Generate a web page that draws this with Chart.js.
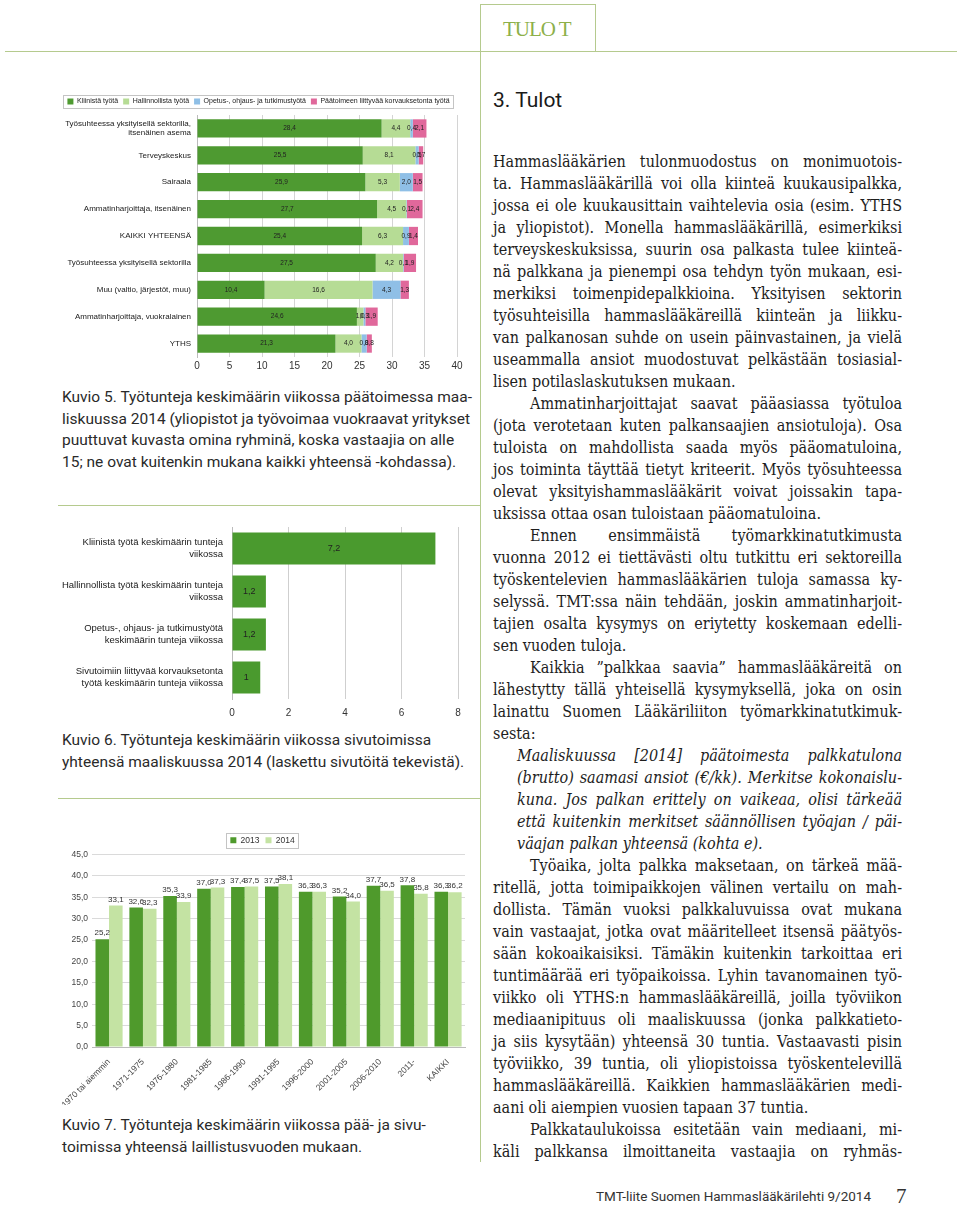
<!DOCTYPE html>
<html lang="fi">
<head>
<meta charset="utf-8">
<script src="https://cdn.jsdelivr.net/npm/chart.js@4.4.1/dist/chart.umd.min.js"></script>
<style>
  body { margin: 0; width: 960px; height: 1206px; position: relative; background: #fff; overflow: hidden; }
  .hline { position: absolute; height: 0; border-top: 1.5px solid #b5ca8e; }
  .vline { position: absolute; width: 0; border-left: 1.5px solid #b5ca8e; }
  .cap { position: absolute; left: 62px; font-family: Roboto, "Liberation Sans", sans-serif; font-size: 15.5px; line-height: 21.5px; color: #2a2a2a; white-space: nowrap; }
  .txt { position: absolute; left: 493px; top: 151px; width: 409px; font-family: "DejaVu Serif Condensed", "DejaVu Serif", serif; font-size: 16px; line-height: 22px; color: #1e1e1e; }
  .txt div { text-align: justify; text-align-last: justify; height: 22px; overflow: visible; }
  .txt div.e { text-align-last: left; }
  .txt .i { padding-left: 37px; }
  .txt .q { margin-left: 24px; font-style: italic; }
  .chart { position: absolute; }
</style>
</head>
<body>

<!-- page frame -->
<div class="hline" style="left:5px; top:51px; width:952px;"></div>
<div class="vline" style="left:480px; top:4px; height:1158px;"></div>
<div class="hline" style="left:480px; top:4px; width:115px;"></div>
<div class="vline" style="left:595px; top:4px; height:47px;"></div>
<div style="position:absolute; left:503px; top:17px; font-family:'Liberation Serif',serif; font-size:21px; color:#8db04a; letter-spacing:-1px;">TULO T</div>
<div class="hline" style="left:58px; top:505px; width:422px;"></div>
<div class="hline" style="left:58px; top:798px; width:422px;"></div>

<!-- Kuvio 5 -->
<canvas id="c1" class="chart" width="410" height="290" style="left:60px; top:90px;"></canvas>
<div class="cap" style="top:387px;">Kuvio 5. Työtunteja keskimäärin viikossa päätoimessa maa-<br>liskuussa 2014 (yliopistot ja työvoimaa vuokraavat yritykset<br>puuttuvat kuvasta omina ryhminä, koska vastaajia on alle<br>15; ne ovat kuitenkin mukana kaikki yhteensä -kohdassa).</div>

<!-- Kuvio 6 -->
<canvas id="c2" class="chart" width="410" height="205" style="left:60px; top:518px;"></canvas>
<div class="cap" style="top:730px;">Kuvio 6. Työtunteja keskimäärin viikossa sivutoimissa<br>yhteensä maaliskuussa 2014 (laskettu sivutöitä tekevistä).</div>

<!-- Kuvio 7 -->
<canvas id="c3" class="chart" width="410" height="275" style="left:60px; top:830px;"></canvas>
<div class="cap" style="top:1115px;">Kuvio 7. Työtunteja keskimäärin viikossa pää- ja sivu-<br>toimissa yhteensä laillistusvuoden mukaan.</div>

<!-- right column -->
<div style="position:absolute; left:493px; top:88px; font-family:Roboto,'Liberation Sans',sans-serif; font-size:21px; color:#1a1a1a;">3. Tulot</div>
<div class="txt" id="txt">
  <div>Hammaslääkärien tulonmuodostus on monimuotois-</div>
  <div>ta. Hammaslääkärillä voi olla kiinteä kuukausipalkka,</div>
  <div>jossa ei ole kuukausittain vaihtelevia osia (esim. YTHS</div>
  <div>ja yliopistot). Monella hammaslääkärillä, esimerkiksi</div>
  <div>terveyskeskuksissa, suurin osa palkasta tulee kiinteä-</div>
  <div>nä palkkana ja pienempi osa tehdyn työn mukaan, esi-</div>
  <div>merkiksi toimenpidepalkkioina. Yksityisen sektorin</div>
  <div>työsuhteisilla hammaslääkäreillä kiinteän ja liikku-</div>
  <div>van palkanosan suhde on usein päinvastainen, ja vielä</div>
  <div>useammalla ansiot muodostuvat pelkästään tosiasial-</div>
  <div class="e">lisen potilaslaskutuksen mukaan.</div>
  <div class="i">Ammatinharjoittajat saavat pääasiassa työtuloa</div>
  <div>(jota verotetaan kuten palkansaajien ansiotuloja). Osa</div>
  <div>tuloista on mahdollista saada myös pääomatuloina,</div>
  <div>jos toiminta täyttää tietyt kriteerit. Myös työsuhteessa</div>
  <div>olevat yksityishammaslääkärit voivat joissakin tapa-</div>
  <div class="e">uksissa ottaa osan tuloistaan pääomatuloina.</div>
  <div class="i">Ennen ensimmäistä työmarkkinatutkimusta</div>
  <div>vuonna 2012 ei tiettävästi oltu tutkittu eri sektoreilla</div>
  <div>työskentelevien hammaslääkärien tuloja samassa ky-</div>
  <div>selyssä. TMT:ssa näin tehdään, joskin ammatinharjoit-</div>
  <div>tajien osalta kysymys on eriytetty koskemaan edelli-</div>
  <div class="e">sen vuoden tuloja.</div>
  <div class="i">Kaikkia ”palkkaa saavia” hammaslääkäreitä on</div>
  <div>lähestytty tällä yhteisellä kysymyksellä, joka on osin</div>
  <div>lainattu Suomen Lääkäriliiton työmarkkinatutkimuk-</div>
  <div class="e">sesta:</div>
  <div class="q">Maaliskuussa [2014] päätoimesta palkkatulona</div>
  <div class="q">(brutto) saamasi ansiot (€/kk). Merkitse kokonaislu-</div>
  <div class="q">kuna. Jos palkan erittely on vaikeaa, olisi tärkeää</div>
  <div class="q">että kuitenkin merkitset säännöllisen työajan / päi-</div>
  <div class="q e">väajan palkan yhteensä (kohta e).</div>
  <div class="i">Työaika, jolta palkka maksetaan, on tärkeä mää-</div>
  <div>ritellä, jotta toimipaikkojen välinen vertailu on mah-</div>
  <div>dollista. Tämän vuoksi palkkaluvuissa ovat mukana</div>
  <div>vain vastaajat, jotka ovat määritelleet itsensä päätyös-</div>
  <div>sään kokoaikaisiksi. Tämäkin kuitenkin tarkoittaa eri</div>
  <div>tuntimäärää eri työpaikoissa. Lyhin tavanomainen työ-</div>
  <div>viikko oli YTHS:n hammaslääkäreillä, joilla työviikon</div>
  <div>mediaanipituus oli maaliskuussa (jonka palkkatieto-</div>
  <div>ja siis kysytään) yhteensä 30 tuntia. Vastaavasti pisin</div>
  <div>työviikko, 39 tuntia, oli yliopistoissa työskentelevillä</div>
  <div>hammaslääkäreillä. Kaikkien hammaslääkärien medi-</div>
  <div class="e">aani oli aiempien vuosien tapaan 37 tuntia.</div>
  <div class="i">Palkkataulukoissa esitetään vain mediaani, mi-</div>
  <div>käli palkkansa ilmoittaneita vastaajia on ryhmäs-</div>
</div>

<div style="position:absolute; left:596px; top:1188px; font-family:Roboto,'Liberation Sans',sans-serif; font-size:13.5px; color:#333;">TMT-liite Suomen Hammaslääkärilehti 9/2014</div>
<div style="position:absolute; left:896px; top:1184px; font-family:'Liberation Serif',serif; font-size:21px; color:#333;">7</div>

<script>
// shrink the body text until every printed line fits on one line
(function fitText() {
  const box = document.getElementById("txt");
  const lines = Array.from(box.children);
  let size = 16;
  const fits = () => lines.every(d => {
    d.style.height = "auto";
    const ok = d.offsetHeight <= 23;
    d.style.height = "";
    return ok;
  });
  while (size > 11 && !fits()) {
    size -= 0.25;
    box.style.fontSize = size + "px";
  }
})();

// Kuvio 5: hours per week in main job, by sector
const sectors = [
  ["Työsuhteessa yksityisellä sektorilla,", "itsenäinen asema"],
  "Terveyskeskus",
  "Sairaala",
  "Ammatinharjoittaja, itsenäinen",
  "KAIKKI YHTEENSÄ",
  "Työsuhteessa yksityisellä sektorilla",
  "Muu (valtio, järjestöt, muu)",
  "Ammatinharjoittaja, vuokralainen",
  "YTHS"
];
const clinical = [28.4, 25.5, 25.9, 27.7, 25.4, 27.5, 10.4, 24.6, 21.3];
const admin    = [4.4, 8.1, 5.3, 4.5, 6.3, 4.2, 16.6, 1.0, 4.0];
const teaching = [0.4, 0.5, 2.0, 0.1, 0.9, 0.1, 4.3, 0.3, 0.8];
const unpaid   = [2.1, 0.7, 1.5, 2.4, 1.4, 1.9, 1.3, 1.9, 0.8];

// Kuvio 6: side jobs
const sideLabels = [
  ["Kliinistä työtä keskimäärin tunteja", "viikossa"],
  ["Hallinnollista työtä keskimäärin tunteja", "viikossa"],
  ["Opetus-, ohjaus- ja tutkimustyötä", "keskimäärin tunteja viikossa"],
  ["Sivutoimiin liittyvää korvauksetonta", "työtä keskimäärin tunteja viikossa"]
];
const sideHours = [7.2, 1.2, 1.2, 1];

// Kuvio 7: by licensing year
const years = ["1970 tai aiemmin", "1971-1975", "1976-1980", "1981-1985", "1986-1990",
  "1991-1995", "1996-2000", "2001-2005", "2006-2010", "2011-", "KAIKKI"];
const hours2013 = [25.2, 32.6, 35.3, 37.0, 37.4, 37.5, 36.3, 35.2, 37.7, 37.8, 36.3];
const hours2014 = [33.1, 32.3, 33.9, 37.3, 37.5, 38.1, 36.3, 34.0, 36.5, 35.8, 36.2];

const comma1 = v => v.toFixed(1).replace(".", ",");

// draws the value of every bar, either in the middle of it or above it
const valueLabels = {
  id: "valueLabels",
  afterDatasetsDraw(chart, args, opts) {
    const ctx = chart.ctx;
    ctx.save();
    ctx.font = opts.font;
    ctx.fillStyle = opts.color;
    ctx.textAlign = "center";
    chart.data.datasets.forEach((ds, i) => {
      chart.getDatasetMeta(i).data.forEach((bar, j) => {
        const txt = opts.format(ds.data[j]);
        if (opts.position === "top") {
          ctx.textBaseline = "bottom";
          ctx.fillText(txt, bar.x, bar.y - 2);
        } else {
          ctx.textBaseline = "middle";
          ctx.fillText(txt, (bar.x + bar.base) / 2, bar.y);
        }
      });
    });
    ctx.restore();
  }
};

// thin frame round the legend items
const legendBox = {
  id: "legendBox",
  afterDraw(chart) {
    const lg = chart.legend;
    if (!lg || !lg.legendHitBoxes || !lg.legendHitBoxes.length) return;
    const hb = lg.legendHitBoxes;
    const l = Math.min(...hb.map(h => h.left)) - 4;
    const r = Math.max(...hb.map(h => h.left + h.width)) + 4;
    const t = Math.min(...hb.map(h => h.top)) - 3;
    const b = Math.max(...hb.map(h => h.top + h.height)) + 3;
    const ctx = chart.ctx;
    ctx.save();
    ctx.strokeStyle = "#c4c4c4";
    ctx.lineWidth = 1;
    ctx.strokeRect(Math.round(l) + 0.5, Math.round(t) + 0.5, Math.round(r - l), Math.round(b - t));
    ctx.restore();
  }
};

const font = "'Liberation Sans', Arial, sans-serif";
Chart.defaults.font.family = font;

new Chart(document.getElementById("c1"), {
  type: "bar",
  data: {
    labels: sectors,
    datasets: [
      { label: "Kliinistä työtä", data: clinical, backgroundColor: "#4e9a31" },
      { label: "Hallinnollista työtä", data: admin, backgroundColor: "#b6dc95" },
      { label: "Opetus-, ohjaus- ja tutkimustyötä", data: teaching, backgroundColor: "#8fbfe6" },
      { label: "Päätoimeen liittyvää korvauksetonta työtä", data: unpaid, backgroundColor: "#e0689b" }
    ]
  },
  options: {
    indexAxis: "y",
    responsive: false,
    animation: false,
    layout: { padding: { top: 3, right: 13 } },
    datasets: { bar: { barPercentage: 0.68, categoryPercentage: 1 } },
    scales: {
      x: {
        stacked: true, min: 0, max: 40,
        ticks: { stepSize: 5, font: { size: 10 }, color: "#333" },
        grid: { color: "#d4d4d4", drawTicks: false },
        border: { display: false },
        afterFit(s) { s.height = 23; }
      },
      y: {
        stacked: true,
        ticks: { font: { size: 8 }, color: "#1a1a1a", padding: 6 },
        grid: { display: false, drawTicks: false },
        border: { color: "#bbb" },
        afterFit(s) { s.width = 137; s.paddingTop = 0; s.paddingBottom = 0; }
      }
    },
    plugins: {
      legend: {
        position: "top",
        labels: { boxWidth: 6, boxHeight: 6, font: { size: 7 }, color: "#222", padding: 5 }
      },
      tooltip: { enabled: false },
      valueLabels: { font: "6.5px " + font, color: "#222", format: comma1 }
    }
  },
  plugins: [valueLabels, legendBox]
});

new Chart(document.getElementById("c2"), {
  type: "bar",
  data: {
    labels: sideLabels,
    datasets: [{ label: "Tunteja", data: sideHours, backgroundColor: "#4a9a2e" }]
  },
  options: {
    indexAxis: "y",
    responsive: false,
    animation: false,
    layout: { padding: { top: 9, right: 12 } },
    datasets: { bar: { barPercentage: 0.74, categoryPercentage: 1 } },
    scales: {
      x: {
        min: 0, max: 8,
        ticks: { stepSize: 2, font: { size: 10 }, color: "#333", padding: 8 },
        grid: { color: "#cfcfcf", drawTicks: false },
        border: { display: false },
        afterFit(s) { s.height = 24; }
      },
      y: {
        ticks: { font: { size: 9.5 }, color: "#1a1a1a", padding: 9 },
        grid: { display: false, drawTicks: false },
        border: { color: "#bbb" },
        afterFit(s) { s.width = 172; s.paddingTop = 0; s.paddingBottom = 0; }
      }
    },
    plugins: {
      legend: { display: false },
      tooltip: { enabled: false },
      valueLabels: { font: "9px " + font, color: "#222", format: v => String(v).replace(".", ",") }
    }
  },
  plugins: [valueLabels]
});

new Chart(document.getElementById("c3"), {
  type: "bar",
  data: {
    labels: years,
    datasets: [
      { label: "2013", data: hours2013, backgroundColor: "#4f9a2c" },
      { label: "2014", data: hours2014, backgroundColor: "#c4e3a3" }
    ]
  },
  options: {
    responsive: false,
    animation: false,
    layout: { padding: { right: 5 } },
    datasets: { bar: { barPercentage: 1, categoryPercentage: 0.8 } },
    scales: {
      x: {
        ticks: { font: { size: 8.5 }, color: "#444", minRotation: 45, maxRotation: 45, padding: 2 },
        grid: { display: false },
        border: { color: "#bbb" },
        afterFit(s) { s.height = 58; }
      },
      y: {
        min: 0, max: 45,
        ticks: { stepSize: 5, font: { size: 8.5 }, color: "#444", padding: 4, callback: v => comma1(v) },
        grid: { color: "#dadada", drawTicks: false },
        border: { display: false },
        afterFit(s) { s.width = 28; }
      }
    },
    plugins: {
      legend: {
        position: "top",
        labels: { boxWidth: 6, boxHeight: 6, font: { size: 8.5 }, color: "#333", padding: 6 }
      },
      tooltip: { enabled: false },
      valueLabels: { position: "top", font: "8px " + font, color: "#333", format: comma1 }
    }
  },
  plugins: [valueLabels, legendBox]
});
</script>
</body>
</html>
